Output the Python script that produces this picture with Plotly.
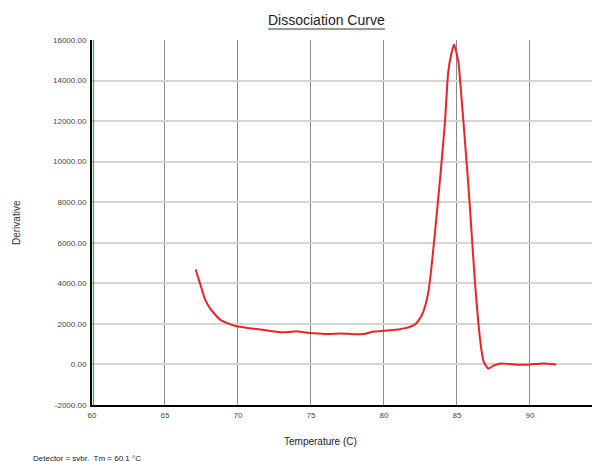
import plotly.graph_objects as go

temperature = [67.1, 67.4, 67.75, 68.2, 68.8, 69.4, 69.9, 70.8, 71.7, 72.9, 73.5, 74.0, 74.6, 75.2,
               76.1, 77.0, 78.0, 78.6, 79.3, 79.95, 80.6, 81.1, 81.45, 81.8, 82.1, 82.4, 82.7, 83.05,
               83.27, 83.5, 83.72, 83.95, 84.18, 84.4, 84.64, 84.8, 85.09, 85.32, 85.55, 85.78, 86.0,
               86.23, 86.46, 86.69, 86.85, 87.15, 87.5, 88.0, 88.6, 89.3, 90.0, 90.7, 91.3, 91.8]
derivative = [4680, 4000, 3200, 2650, 2200, 2000, 1880, 1790, 1710, 1590, 1600, 1640, 1580, 1540,
              1500, 1530, 1490, 1500, 1620, 1660, 1700, 1740, 1790, 1860, 1960, 2200, 2610, 3600,
              4900, 6550, 8200, 10000, 11950, 14400, 15400, 15780, 14950, 13100, 11000, 8850, 6550,
              4100, 2100, 650, 100, -200, -60, 50, 20, -20, 0, 40, 30, 0]

x_ticks = [60, 65, 70, 75, 80, 85, 90]
y_ticks = [-2000, 0, 2000, 4000, 6000, 8000, 10000, 12000, 14000, 16000]
y_tick_labels = ["-2000.00", "0.00", "2000.00", "4000.00", "6000.00", "8000.00",
                 "10000.00", "12000.00", "14000.00", "16000.00"]

X_MAX = 94.8
PW = 508.0   # plot width in px
PH = 365.0   # plot height in px
L, T = 92, 40  # plot origin in window px


def px(x):
    return (x - L) / PW


def py(y):
    return (T + PH - y) / PH


fig = go.Figure()
fig.add_trace(go.Scatter(x=temperature, y=derivative, mode="lines",
                         line=dict(color="#e8232a", width=2, shape="spline", smoothing=0.5),
                         hoverinfo="skip"))

font = "Liberation Sans, Arial, sans-serif"
fig.update_layout(
    width=592, height=453,
    margin=dict(l=84, r=0, t=32, b=56),
    paper_bgcolor="white", plot_bgcolor="white",
    showlegend=False,
    font=dict(family=font, size=8, color="#333"),
    xaxis=dict(range=[60, X_MAX], tickvals=x_ticks, ticktext=[str(v) for v in x_ticks],
               showgrid=True, gridcolor="#8a8a8a", gridwidth=1,
               showline=True, linecolor="black", linewidth=2, zeroline=False,
               ticks="", ticklabelstandoff=1, automargin=False,
               tickfont=dict(size=8, color="#444")),
    yaxis=dict(range=[-2000, 16000], tickvals=y_ticks, ticktext=y_tick_labels,
               showgrid=True, gridcolor="#d4d4d0", gridwidth=1.5,
               showline=True, linecolor="black", linewidth=2, zeroline=False,
               ticks="", ticklabelstandoff=2, automargin=False,
               tickfont=dict(size=8, color="#444")),
    shapes=[
        dict(type="line", xref="x", yref="y", x0=60.1, x1=60.1, y0=-2000, y1=16000,
             line=dict(color="#2fb02f", width=1.2)),
        dict(type="line", xref="paper", yref="paper", x0=px(268), x1=px(385),
             y0=py(29), y1=py(29), line=dict(color="#333", width=1)),
    ],
    annotations=[
        dict(text="95", xref="paper", yref="paper", x=px(603), y=py(406),
             showarrow=False, font=dict(size=8, color="#444", family=font),
             xanchor="center", yanchor="top"),
        dict(text="Dissociation Curve", xref="paper", yref="paper",
             x=px(326), y=py(20), showarrow=False,
             font=dict(size=14, color="#222", family=font), xanchor="center", yanchor="middle"),
        dict(text="Temperature (C)", xref="paper", yref="paper",
             x=px(320), y=py(441), showarrow=False,
             font=dict(size=10, color="#222", family=font), xanchor="center", yanchor="middle"),
        dict(text="Derivative", xref="paper", yref="paper", textangle=-90,
             x=px(16), y=py(223), showarrow=False,
             font=dict(size=10, color="#333", family=font), xanchor="center", yanchor="middle"),
        dict(text="Detector = sybr,  Tm = 60.1 °C", xref="paper", yref="paper",
             x=px(31), y=py(465), showarrow=False,
             font=dict(size=8, color="#222", family=font), xanchor="left", yanchor="bottom"),
    ],
)

fig.write_html("out.html")
